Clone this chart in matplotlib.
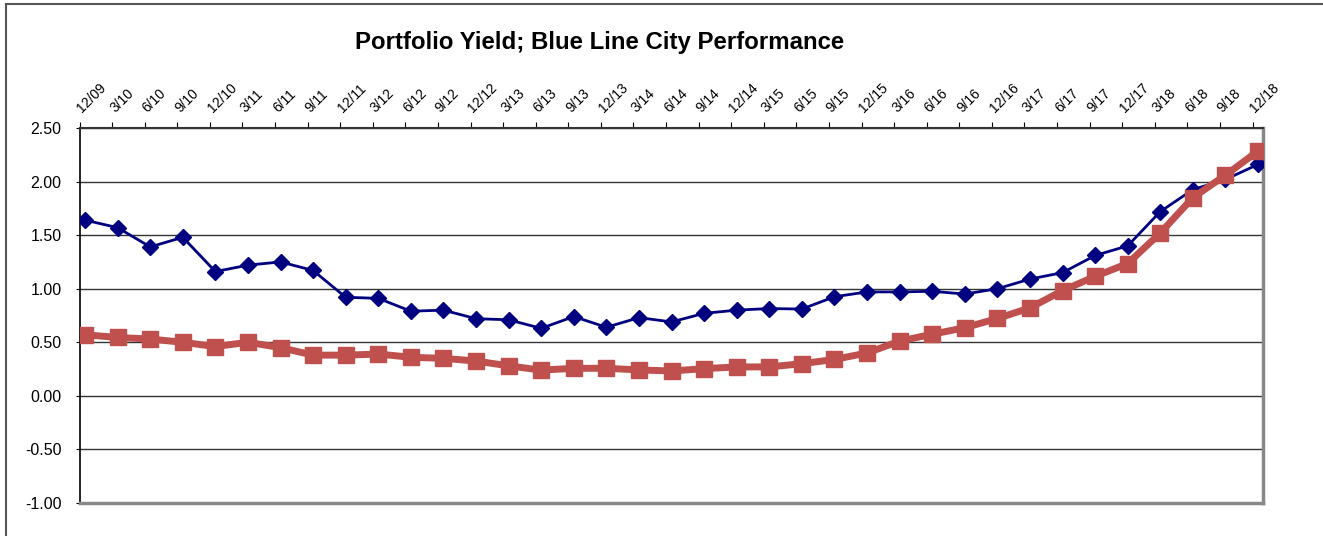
import numpy as np
import matplotlib.pyplot as plt
from matplotlib.patches import Rectangle

plt.rcParams['font.family'] = ['Liberation Sans', 'DejaVu Sans']

# quarter-end labels, 12/09 .. 12/18
quarters = ["12/09", "3/10", "6/10", "9/10", "12/10", "3/11", "6/11", "9/11",
            "12/11", "3/12", "6/12", "9/12", "12/12", "3/13", "6/13", "9/13",
            "12/13", "3/14", "6/14", "9/14", "12/14", "3/15", "6/15", "9/15",
            "12/15", "3/16", "6/16", "9/16", "12/16", "3/17", "6/17", "9/17",
            "12/17", "3/18", "6/18", "9/18", "12/18"]

# portfolio yield (blue line)
portfolio = [1.64, 1.57, 1.39, 1.48, 1.16, 1.22, 1.25, 1.17, 0.92, 0.91,
             0.79, 0.80, 0.72, 0.71, 0.63, 0.74, 0.64, 0.73, 0.69, 0.77,
             0.80, 0.815, 0.81, 0.925, 0.97, 0.97, 0.976, 0.95, 1.00, 1.09,
             1.15, 1.31, 1.40, 1.72, 1.925, 2.02, 2.16]

# benchmark (red line)
benchmark = [0.57, 0.545, 0.53, 0.50, 0.46, 0.50, 0.45, 0.38, 0.38, 0.39,
             0.36, 0.35, 0.325, 0.28, 0.24, 0.257, 0.257, 0.242, 0.232, 0.254,
             0.27, 0.27, 0.30, 0.34, 0.40, 0.511, 0.575, 0.636, 0.722, 0.821,
             0.982, 1.115, 1.235, 1.52, 1.85, 2.06, 2.285]

x = np.arange(len(quarters))

fig = plt.figure(figsize=(13.23, 5.36), dpi=100)
ax = fig.add_axes([0.0601, 0.0616, 0.8945, 0.6996])

# outer chart border
fig.patches.append(Rectangle((6 / 1323, -0.1), 1.2, 1 - 4 / 536 + 0.1,
                             transform=fig.transFigure, fill=False,
                             edgecolor='#555555', linewidth=1.5))

ax.plot(x, portfolio, color='#000080', linewidth=2, marker='D',
        markersize=8, zorder=3)
ax.plot(x, benchmark, color='#C0504D', linewidth=5, marker='s',
        markersize=12, zorder=4)

ax.set_ylim(-1.0, 2.5)
ax.set_xlim(-0.14, 36.15)
ax.set_yticks(np.arange(-1.0, 2.51, 0.5))
ax.set_yticklabels([f"{v:.2f}" for v in np.arange(-1.0, 2.51, 0.5)], fontsize=11.5)
ax.yaxis.grid(True, color='#333333', linewidth=1)
ax.set_axisbelow(True)

ax.set_xticks(x - 0.17)
ax.xaxis.tick_top()
ax.set_xticklabels(quarters, rotation=45, ha='left', va='center',
                   rotation_mode='anchor', fontsize=10)
ax.tick_params(axis='x', direction='out', length=4, pad=9)
ax.tick_params(axis='y', direction='out', length=3, pad=10)

ax.spines['left'].set_color('#000000')
ax.spines['top'].set_color('#333333')
ax.spines['right'].set_color('#888888')
ax.spines['bottom'].set_color('#888888')
for s in ['right', 'bottom']:
    ax.spines[s].set_linewidth(2.5)
ax.spines['left'].set_linewidth(1.2)
ax.spines['top'].set_linewidth(1.5)

fig.text(0.4535, 0.92, "Portfolio Yield; Blue Line City Performance",
         ha='center', va='center', fontsize=17.3, fontweight='bold')

fig.savefig('out.png', dpi=100)
